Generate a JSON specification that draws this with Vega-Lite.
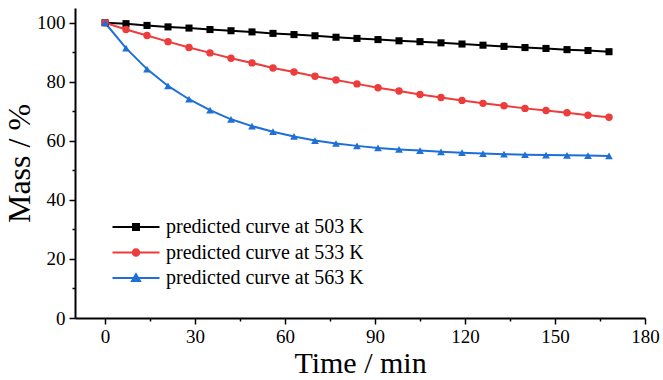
{
  "$schema": "https://vega.github.io/schema/vega-lite/v6.json",
  "width": 570,
  "height": 310,
  "autosize": {"type": "none"},
  "padding": {"left": 75, "top": 8, "right": 18, "bottom": 62},
  "background": "white",
  "config": {
    "font": "Liberation Serif",
    "view": {"stroke": null},
    "axis": {
      "grid": false,
      "domainColor": "black",
      "domainWidth": 2,
      "tickColor": "black",
      "tickWidth": 1.5,
      "labelColor": "black",
      "labelFont": "Liberation Serif",
      "labelFontSize": 19,
      "titleFont": "Liberation Serif",
      "titleFontWeight": "normal",
      "titleColor": "black",
      "labelOverlap": false,
      "labelFlush": false
    }
  },
  "data": {
    "values": [
      {"t": 0, "m": 100, "s": "predicted curve at 503 K"},
      {"t": 7, "m": 99.7, "s": "predicted curve at 503 K"},
      {"t": 14, "m": 99.1, "s": "predicted curve at 503 K"},
      {"t": 21, "m": 98.6, "s": "predicted curve at 503 K"},
      {"t": 28, "m": 98.2, "s": "predicted curve at 503 K"},
      {"t": 35, "m": 97.7, "s": "predicted curve at 503 K"},
      {"t": 42, "m": 97.3, "s": "predicted curve at 503 K"},
      {"t": 49, "m": 96.9, "s": "predicted curve at 503 K"},
      {"t": 56, "m": 96.4, "s": "predicted curve at 503 K"},
      {"t": 63, "m": 96.0, "s": "predicted curve at 503 K"},
      {"t": 70, "m": 95.6, "s": "predicted curve at 503 K"},
      {"t": 77, "m": 95.1, "s": "predicted curve at 503 K"},
      {"t": 84, "m": 94.7, "s": "predicted curve at 503 K"},
      {"t": 91, "m": 94.3, "s": "predicted curve at 503 K"},
      {"t": 98, "m": 93.9, "s": "predicted curve at 503 K"},
      {"t": 105, "m": 93.6, "s": "predicted curve at 503 K"},
      {"t": 112, "m": 93.2, "s": "predicted curve at 503 K"},
      {"t": 119, "m": 92.8, "s": "predicted curve at 503 K"},
      {"t": 126, "m": 92.4, "s": "predicted curve at 503 K"},
      {"t": 133, "m": 92.0, "s": "predicted curve at 503 K"},
      {"t": 140, "m": 91.6, "s": "predicted curve at 503 K"},
      {"t": 147, "m": 91.3, "s": "predicted curve at 503 K"},
      {"t": 154, "m": 90.9, "s": "predicted curve at 503 K"},
      {"t": 161, "m": 90.6, "s": "predicted curve at 503 K"},
      {"t": 168, "m": 90.2, "s": "predicted curve at 503 K"},
      {"t": 0, "m": 100, "s": "predicted curve at 533 K"},
      {"t": 7, "m": 97.7, "s": "predicted curve at 533 K"},
      {"t": 14, "m": 95.7, "s": "predicted curve at 533 K"},
      {"t": 21, "m": 93.6, "s": "predicted curve at 533 K"},
      {"t": 28, "m": 91.6, "s": "predicted curve at 533 K"},
      {"t": 35, "m": 89.8, "s": "predicted curve at 533 K"},
      {"t": 42, "m": 88.0, "s": "predicted curve at 533 K"},
      {"t": 49, "m": 86.4, "s": "predicted curve at 533 K"},
      {"t": 56, "m": 84.7, "s": "predicted curve at 533 K"},
      {"t": 63, "m": 83.3, "s": "predicted curve at 533 K"},
      {"t": 70, "m": 81.9, "s": "predicted curve at 533 K"},
      {"t": 77, "m": 80.6, "s": "predicted curve at 533 K"},
      {"t": 84, "m": 79.3, "s": "predicted curve at 533 K"},
      {"t": 91, "m": 78.0, "s": "predicted curve at 533 K"},
      {"t": 98, "m": 76.9, "s": "predicted curve at 533 K"},
      {"t": 105, "m": 75.7, "s": "predicted curve at 533 K"},
      {"t": 112, "m": 74.7, "s": "predicted curve at 533 K"},
      {"t": 119, "m": 73.7, "s": "predicted curve at 533 K"},
      {"t": 126, "m": 72.7, "s": "predicted curve at 533 K"},
      {"t": 133, "m": 71.9, "s": "predicted curve at 533 K"},
      {"t": 140, "m": 71.0, "s": "predicted curve at 533 K"},
      {"t": 147, "m": 70.3, "s": "predicted curve at 533 K"},
      {"t": 154, "m": 69.5, "s": "predicted curve at 533 K"},
      {"t": 161, "m": 68.7, "s": "predicted curve at 533 K"},
      {"t": 168, "m": 68.0, "s": "predicted curve at 533 K"},
      {"t": 0, "m": 100, "s": "predicted curve at 563 K"},
      {"t": 7, "m": 91.4, "s": "predicted curve at 563 K"},
      {"t": 14, "m": 84.3, "s": "predicted curve at 563 K"},
      {"t": 21, "m": 78.6, "s": "predicted curve at 563 K"},
      {"t": 28, "m": 74.1, "s": "predicted curve at 563 K"},
      {"t": 35, "m": 70.4, "s": "predicted curve at 563 K"},
      {"t": 42, "m": 67.3, "s": "predicted curve at 563 K"},
      {"t": 49, "m": 65.0, "s": "predicted curve at 563 K"},
      {"t": 56, "m": 63.1, "s": "predicted curve at 563 K"},
      {"t": 63, "m": 61.5, "s": "predicted curve at 563 K"},
      {"t": 70, "m": 60.1, "s": "predicted curve at 563 K"},
      {"t": 77, "m": 59.1, "s": "predicted curve at 563 K"},
      {"t": 84, "m": 58.3, "s": "predicted curve at 563 K"},
      {"t": 91, "m": 57.6, "s": "predicted curve at 563 K"},
      {"t": 98, "m": 57.1, "s": "predicted curve at 563 K"},
      {"t": 105, "m": 56.7, "s": "predicted curve at 563 K"},
      {"t": 112, "m": 56.3, "s": "predicted curve at 563 K"},
      {"t": 119, "m": 56.0, "s": "predicted curve at 563 K"},
      {"t": 126, "m": 55.7, "s": "predicted curve at 563 K"},
      {"t": 133, "m": 55.5, "s": "predicted curve at 563 K"},
      {"t": 140, "m": 55.3, "s": "predicted curve at 563 K"},
      {"t": 147, "m": 55.2, "s": "predicted curve at 563 K"},
      {"t": 154, "m": 55.1, "s": "predicted curve at 563 K"},
      {"t": 161, "m": 55.0, "s": "predicted curve at 563 K"},
      {"t": 168, "m": 54.9, "s": "predicted curve at 563 K"}
    ]
  },
  "encoding": {
    "x": {
      "field": "t",
      "type": "quantitative",
      "scale": {"domain": [-10, 180], "nice": false, "zero": false},
      "axis": {
        "title": "Time / min",
        "titleFontSize": 30,
        "titleFont": "Liberation Serif",
        "titlePadding": 2,
        "labelFont": "Liberation Serif",
        "labelFontSize": 19,
        "values": [0, 15, 30, 45, 60, 75, 90, 105, 120, 135, 150, 165, 180],
        "labelExpr": "datum.value % 30 == 0 ? datum.label : ''",
        "tickSize": {"condition": {"test": "datum.value % 30 != 0", "value": 3}, "value": 6},
        "labelPadding": 3
      }
    },
    "y": {
      "field": "m",
      "type": "quantitative",
      "scale": {"domain": [0, 105], "nice": false},
      "axis": {
        "title": "Mass / %",
        "titleFontSize": 32,
        "titleFont": "Liberation Serif",
        "titlePadding": 0,
        "labelFont": "Liberation Serif",
        "labelFontSize": 19,
        "values": [0, 10, 20, 30, 40, 50, 60, 70, 80, 90, 100],
        "labelExpr": "datum.value % 20 == 0 ? datum.label : ''",
        "tickSize": {"condition": {"test": "datum.value % 20 != 0", "value": 3}, "value": 6},
        "labelPadding": 4
      }
    }
  },
  "layer": [
    {
      "mark": {"type": "line", "strokeWidth": 2},
      "encoding": {
        "color": {
          "field": "s",
          "type": "nominal",
          "scale": {
            "domain": ["predicted curve at 503 K", "predicted curve at 533 K", "predicted curve at 563 K"],
            "range": ["#000000", "#EE3B3B", "#1F6FD8"]
          },
          "legend": {
            "title": null,
            "orient": "none",
            "legendX": 51,
            "legendY": 209,
            "padding": 0,
            "labelFont": "Liberation Serif",
            "labelFontSize": 20,
            "labelColor": "black",
            "labelOffset": 20,
            "rowPadding": 5.5,
            "symbolSize": 100,
            "symbolStrokeWidth": 2,
            "labelLimit": 400,
            "encode": {
              "symbols": {
                "update": {
                  "shape": {"signal": "datum.value == 'predicted curve at 503 K' ? 'M-4.7,0H4.7M-0.6,-0.6H0.6V0.6H-0.6Z' : datum.value == 'predicted curve at 533 K' ? 'M-4.7,0H4.7M-0.65,0A0.65,0.65,0,1,0,0.65,0A0.65,0.65,0,1,0,-0.65,0Z' : 'M-4.7,0H4.7M0,-0.75L0.8,0.6H-0.8Z'"},
                  "fill": {"signal": "datum.value == 'predicted curve at 503 K' ? '#000000' : datum.value == 'predicted curve at 533 K' ? '#EE3B3B' : '#1F6FD8'"},
                  "stroke": {"signal": "datum.value == 'predicted curve at 503 K' ? '#000000' : datum.value == 'predicted curve at 533 K' ? '#EE3B3B' : '#1F6FD8'"},
                  "strokeWidth": {"value": 2}
                }
              }
            }
          }
        }
      }
    },
    {
      "transform": [{"filter": "datum.s == 'predicted curve at 503 K'"}],
      "mark": {"type": "point", "filled": true, "opacity": 1, "shape": "square", "color": "#000000", "size": 50}
    },
    {
      "transform": [{"filter": "datum.s == 'predicted curve at 533 K'"}],
      "mark": {"type": "point", "filled": true, "opacity": 1, "shape": "circle", "color": "#EE3B3B", "size": 55}
    },
    {
      "transform": [{"filter": "datum.s == 'predicted curve at 563 K'"}],
      "mark": {"type": "point", "filled": true, "opacity": 1, "shape": "triangle-up", "color": "#1F6FD8", "size": 60}
    }
  ]
}
